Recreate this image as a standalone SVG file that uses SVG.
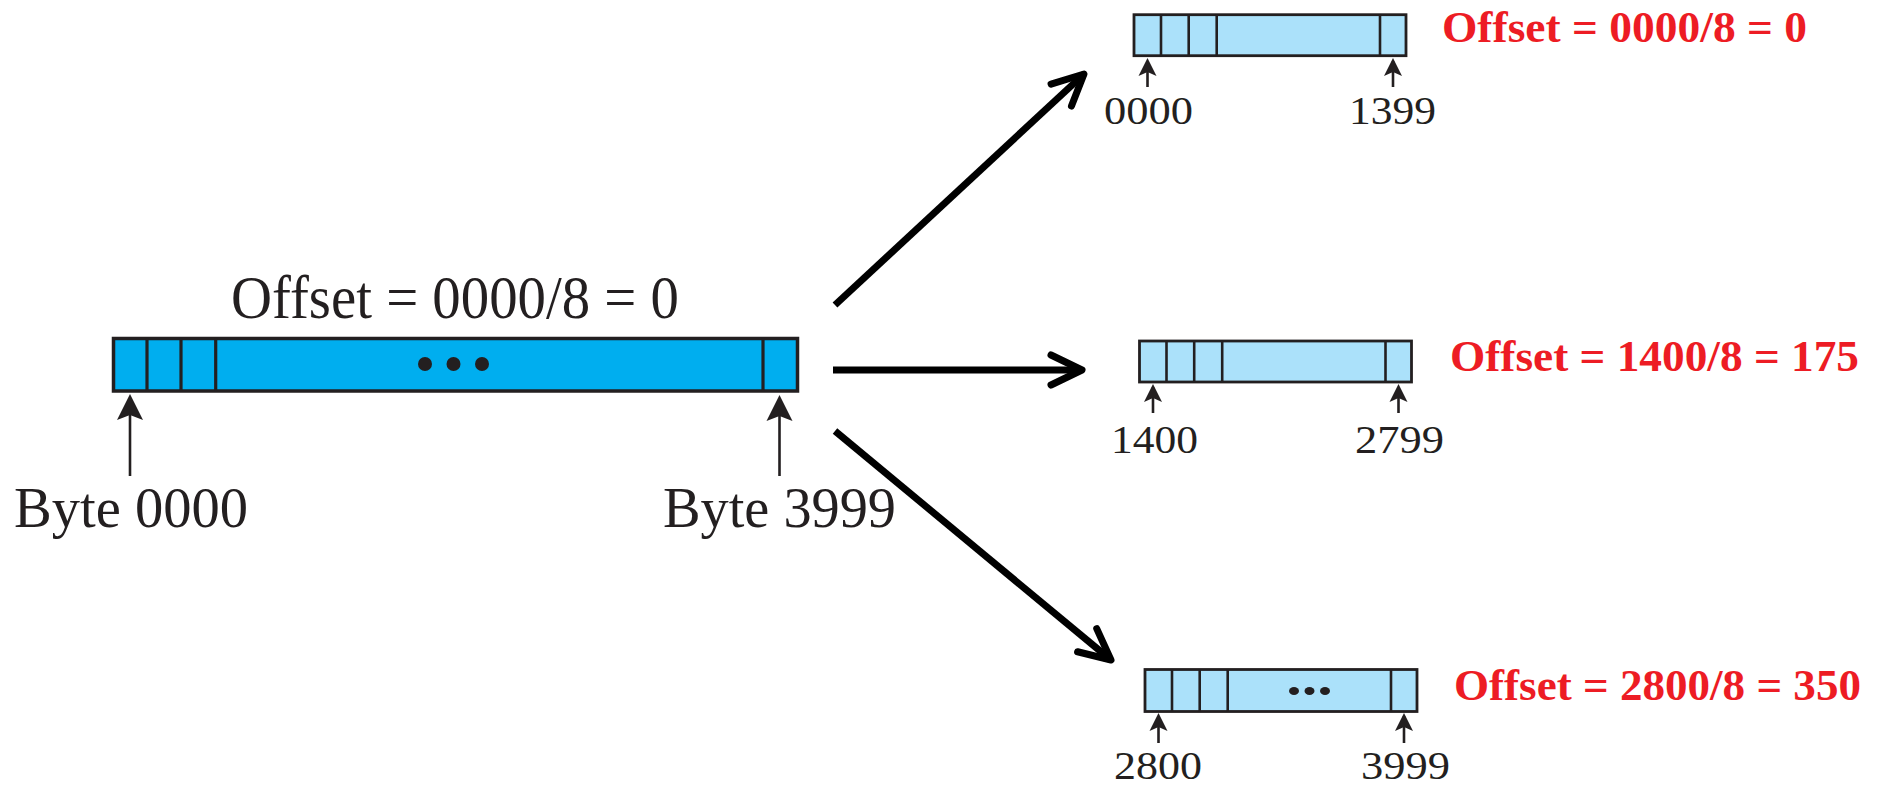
<svg xmlns="http://www.w3.org/2000/svg" width="1879" height="788" viewBox="0 0 1879 788">
<style>
.big{fill:#00AEEF;stroke:#231F20;stroke-width:3.5}
.small{fill:#ABE1FA;stroke:#231F20;stroke-width:2.8}
.div{stroke:#231F20;stroke-width:3.2}
.sdiv{stroke:#231F20;stroke-width:2.6}
.up{stroke:#231F20;stroke-width:2.6;fill:none}
.conn{stroke:#000;stroke-width:7;fill:none}
.t{font-family:"Liberation Serif","Times New Roman",serif;fill:#231F20}
.red{font-family:"Liberation Serif","Times New Roman",serif;font-weight:bold;fill:#ED1C24;font-size:45px}
.dot{fill:#231F20}
</style>
<defs>
<marker id="upBig" markerUnits="userSpaceOnUse" viewBox="-30 -16 32 32" refX="-4" refY="0" markerWidth="32" markerHeight="32" orient="auto" overflow="visible">
<path d="M0,0 L-26,-13 L-21,0 L-26,13 Z" fill="#231F20"/>
</marker>
<marker id="upSmall" markerUnits="userSpaceOnUse" viewBox="-22 -12 24 24" refX="-3" refY="0" markerWidth="24" markerHeight="24" orient="auto" overflow="visible">
<path d="M0,0 L-18,-9 L-14,0 L-18,9 Z" fill="#231F20"/>
</marker>
<marker id="chev" markerUnits="userSpaceOnUse" viewBox="-40 -20 44 40" refX="0" refY="0" markerWidth="44" markerHeight="40" orient="auto" overflow="visible">
<path d="M-31,-15 L0,0 L-31,15" fill="none" stroke="#000" stroke-width="7" stroke-linecap="round" stroke-linejoin="round"/>
</marker>
</defs>

<g id="original">
<rect class="big" x="113.5" y="338.5" width="684" height="52.5"/>
<line class="div" x1="147" y1="338.5" x2="147" y2="391"/>
<line class="div" x1="181" y1="338.5" x2="181" y2="391"/>
<line class="div" x1="215.7" y1="338.5" x2="215.7" y2="391"/>
<line class="div" x1="763" y1="338.5" x2="763" y2="391"/>
<circle class="dot" cx="425" cy="364" r="7"/>
<circle class="dot" cx="453.5" cy="364" r="7"/>
<circle class="dot" cx="482" cy="364" r="7"/>
<text class="t" x="231" y="318" font-size="62" textLength="448" lengthAdjust="spacingAndGlyphs">Offset = 0000/8 = 0</text>
<line class="up" x1="130" y1="476" x2="130" y2="398" marker-end="url(#upBig)"/>
<line class="up" x1="779.5" y1="476" x2="779.5" y2="399" marker-end="url(#upBig)"/>
<text class="t" x="14" y="527" font-size="58" textLength="234" lengthAdjust="spacingAndGlyphs">Byte 0000</text>
<text class="t" x="663" y="527" font-size="58" textLength="233" lengthAdjust="spacingAndGlyphs">Byte 3999</text>
</g>

<g id="fragment1">
<rect class="small" x="1134" y="14.7" width="272" height="41"/>
<line class="sdiv" x1="1161" y1="14.7" x2="1161" y2="55.7"/>
<line class="sdiv" x1="1188.7" y1="14.7" x2="1188.7" y2="55.7"/>
<line class="sdiv" x1="1216.7" y1="14.7" x2="1216.7" y2="55.7"/>
<line class="sdiv" x1="1380" y1="14.7" x2="1380" y2="55.7"/>
<line class="up" x1="1147.5" y1="87" x2="1147.5" y2="61" marker-end="url(#upSmall)"/>
<line class="up" x1="1393" y1="87" x2="1393" y2="61" marker-end="url(#upSmall)"/>
<text class="t" x="1104" y="124" font-size="40" textLength="89" lengthAdjust="spacingAndGlyphs">0000</text>
<text class="t" x="1349" y="124" font-size="40" textLength="87" lengthAdjust="spacingAndGlyphs">1399</text>
<text class="red" x="1442" y="42" textLength="365" lengthAdjust="spacingAndGlyphs">Offset = 0000/8 = 0</text>
</g>

<g id="fragment2">
<rect class="small" x="1139.5" y="341" width="272" height="41"/>
<line class="sdiv" x1="1166.5" y1="341" x2="1166.5" y2="382"/>
<line class="sdiv" x1="1194.2" y1="341" x2="1194.2" y2="382"/>
<line class="sdiv" x1="1222.2" y1="341" x2="1222.2" y2="382"/>
<line class="sdiv" x1="1385.5" y1="341" x2="1385.5" y2="382"/>
<line class="up" x1="1153" y1="413" x2="1153" y2="387" marker-end="url(#upSmall)"/>
<line class="up" x1="1398.5" y1="413" x2="1398.5" y2="387" marker-end="url(#upSmall)"/>
<text class="t" x="1111" y="453" font-size="40" textLength="87" lengthAdjust="spacingAndGlyphs">1400</text>
<text class="t" x="1355" y="453" font-size="40" textLength="89" lengthAdjust="spacingAndGlyphs">2799</text>
<text class="red" x="1450" y="371" textLength="409" lengthAdjust="spacingAndGlyphs">Offset = 1400/8 = 175</text>
</g>

<g id="fragment3">
<rect class="small" x="1145" y="669.5" width="272" height="42"/>
<line class="sdiv" x1="1172" y1="669.5" x2="1172" y2="711.5"/>
<line class="sdiv" x1="1199.7" y1="669.5" x2="1199.7" y2="711.5"/>
<line class="sdiv" x1="1227.7" y1="669.5" x2="1227.7" y2="711.5"/>
<line class="sdiv" x1="1391" y1="669.5" x2="1391" y2="711.5"/>
<ellipse class="dot" cx="1294" cy="691" rx="5" ry="4"/>
<ellipse class="dot" cx="1309.5" cy="691" rx="5" ry="4"/>
<ellipse class="dot" cx="1325" cy="691" rx="5" ry="4"/>
<line class="up" x1="1158.5" y1="743" x2="1158.5" y2="716" marker-end="url(#upSmall)"/>
<line class="up" x1="1404" y1="743" x2="1404" y2="716" marker-end="url(#upSmall)"/>
<text class="t" x="1114" y="779" font-size="39" textLength="88" lengthAdjust="spacingAndGlyphs">2800</text>
<text class="t" x="1361" y="779" font-size="39" textLength="89" lengthAdjust="spacingAndGlyphs">3999</text>
<text class="red" x="1454" y="700" textLength="407" lengthAdjust="spacingAndGlyphs">Offset = 2800/8 = 350</text>
</g>

<g id="connectors">
<line class="conn" x1="835" y1="305" x2="1084" y2="74" marker-end="url(#chev)"/>
<line class="conn" x1="833" y1="370" x2="1082" y2="370" marker-end="url(#chev)"/>
<line class="conn" x1="835" y1="431" x2="1111" y2="660" marker-end="url(#chev)"/>
</g>
</svg>
